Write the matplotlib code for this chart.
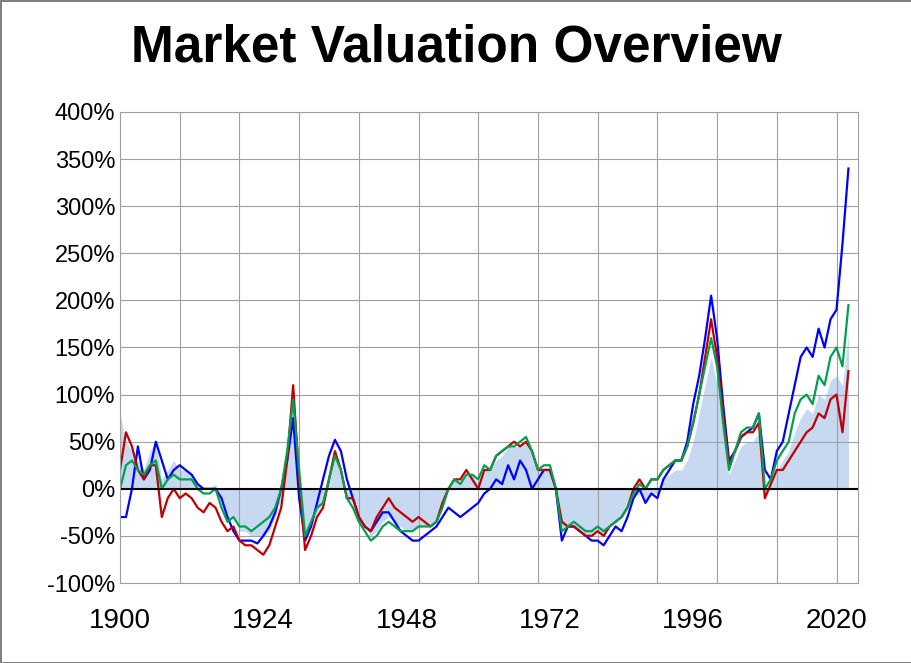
import matplotlib
matplotlib.use("Agg")
import matplotlib.pyplot as plt

years = list(range(1900, 2023))
blue = [-30,-30,0,45,10,20,50,30,10,20,25,20,15,5,0,0,0,-10,-30,-45,
        -55,-55,-55,-58,-50,-40,-25,0,30,75,-10,-55,-40,-15,10,35,52,40,10,-10,
        -30,-40,-45,-35,-25,-25,-35,-45,-50,-55,-55,-50,-45,-40,-30,-20,-25,-30,-25,-20,
        -15,-5,0,10,5,25,10,30,20,0,10,20,20,0,-55,-40,-40,-45,-50,-55,
        -55,-60,-50,-40,-45,-30,-10,0,-15,-5,-10,10,20,30,30,50,90,120,160,205,
        160,90,30,40,55,60,65,80,20,10,40,50,80,110,140,150,140,170,150,180,
        190,260,340]
red = [20,60,45,20,10,25,25,-30,-10,0,-10,-5,-10,-20,-25,-15,-20,-35,-45,-40,
       -55,-60,-60,-65,-70,-60,-40,-20,30,110,10,-65,-50,-30,-20,10,40,20,-10,-10,
       -30,-40,-45,-30,-20,-10,-20,-25,-30,-35,-30,-35,-40,-35,-15,0,10,10,20,10,
       0,20,20,35,40,45,50,45,50,40,20,20,20,0,-35,-40,-40,-45,-50,-50,
       -45,-50,-40,-35,-30,-20,0,10,0,10,10,20,25,30,30,45,70,100,140,180,
       140,80,25,40,55,60,60,70,-10,5,20,20,30,40,50,60,65,80,75,95,
       100,60,125]
green = [0,25,30,20,15,25,30,0,10,15,10,10,10,0,-5,-5,0,-20,-35,-30,
         -40,-40,-45,-40,-35,-30,-20,0,40,95,20,-50,-35,-20,-15,10,35,20,-10,-20,
         -35,-45,-55,-50,-40,-35,-40,-45,-45,-45,-40,-40,-40,-35,-20,0,10,5,15,15,
         10,25,20,35,40,45,45,50,55,40,20,25,25,0,-45,-40,-35,-40,-45,-45,
         -40,-45,-40,-35,-30,-20,-5,5,0,10,10,20,25,30,30,45,70,100,130,160,
         130,70,20,40,60,65,65,80,0,10,30,40,50,80,95,100,90,120,110,140,
         150,130,195]
fill = [80,50,40,30,20,40,50,10,20,30,20,20,15,5,0,0,5,-15,-35,-30,
        -45,-45,-50,-50,-50,-45,-30,-10,35,100,15,-55,-40,-25,-15,10,40,20,-10,-15,
        -30,-40,-50,-45,-35,-30,-35,-40,-45,-45,-40,-40,-40,-35,-20,0,10,5,15,15,
        5,20,20,30,35,45,45,45,50,40,20,20,20,0,-40,-40,-40,-45,-50,-50,
        -45,-50,-40,-35,-30,-20,-10,-5,-15,-5,-5,10,15,20,20,30,50,80,110,140,
        110,60,15,30,45,50,50,60,-5,5,20,30,40,60,75,85,80,100,95,115,
        120,110,165]
xticks = [1900, 1924, 1948, 1972, 1996, 2020]
yticks = list(range(-100, 401, 50))

fig = plt.figure(figsize=(9.12, 6.63), dpi=100)
fig.patch.set_edgecolor('#808080'); fig.patch.set_linewidth(2)
ax = fig.add_axes([120/912, 1-583/663, 738/912, 471/663])
ax.fill_between(years, fill, 0, color='#c6d9f1', lw=0)
ax.plot(years, blue, color='#0000ff', lw=1.6)
ax.plot(years, red, color='#c00000', lw=1.6)
ax.plot(years, green, color='#00a050', lw=1.6)
ax.axhline(0, color='black', lw=1.5)
ax.set_xlim(1900, 2023.6)
ax.set_ylim(-100, 400)
ax.set_xticks(list(range(1900, 2021, 10)))
ax.set_xticklabels([''] * 13)
for y in xticks:
    ax.text(y, -140, str(y), ha='center', va='center', fontsize=20, fontfamily='Liberation Sans')
ax.set_yticks(yticks)
ax.set_yticklabels([f'{v}%' for v in yticks], fontsize=17, fontfamily='Liberation Sans')
ax.tick_params(length=0)
ax.grid(True, color='#a0a0a0', lw=0.8)
for s in ax.spines.values():
    s.set_color('#a0a0a0')
fig.text(0.5, 1-48/663, 'Market Valuation Overview', ha='center', va='center',
         fontsize=37, fontweight='bold', fontfamily='Liberation Sans')
fig.savefig('out.png', dpi=100, edgecolor=fig.get_edgecolor())
